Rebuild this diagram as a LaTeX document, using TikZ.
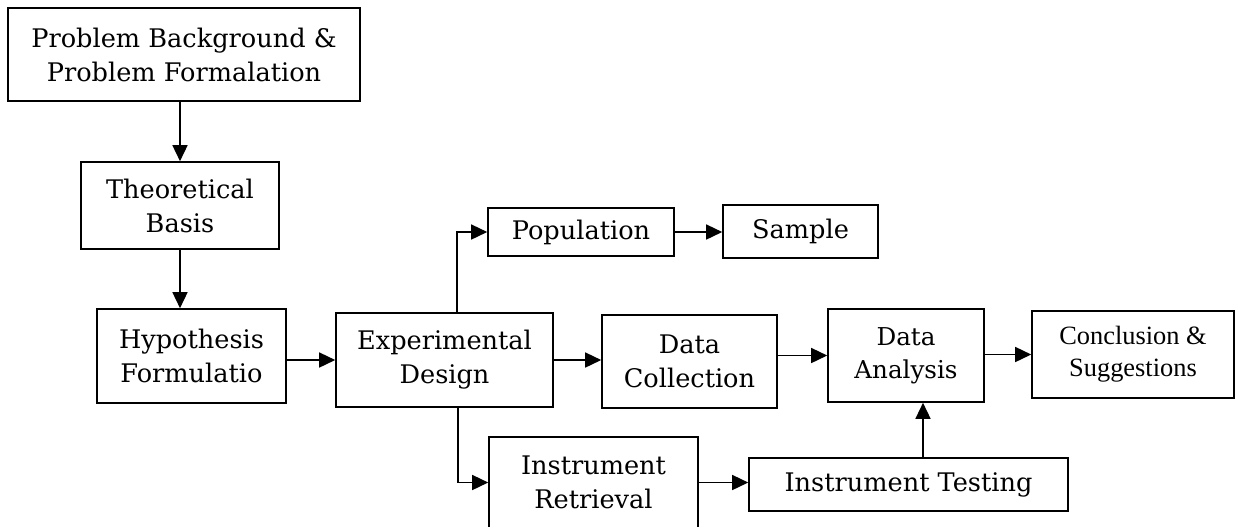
\documentclass[tikz,border=0pt]{standalone}
\usepackage{fontspec}
\setmainfont{DejaVu Serif}
\newfontfamily\timesfont{Liberation Serif}
\usepackage{tikz}
\usetikzlibrary{arrows.meta}
\tikzset{
    flow-box/.style = {draw=black, fill=white, line width=0.8pt, rectangle, inner sep=0pt, align=center, font=\fontsize{12.8}{17}\selectfont},
    flow-arrow/.style = {draw=black, line width=0.75pt, -{Triangle[length=8pt, width=7.5pt]}},
}

\begin{document}
\begin{tikzpicture}[x=0.5pt, y=-0.5pt]
\clip (0,0) rectangle (1235,526);
\node [flow-box, minimum width=176pt, minimum height=46.5pt] (problem) at (184,54.5) {Problem Background \&\\ Problem Formalation};
\node [flow-box, minimum width=99pt, minimum height=43.5pt] (theory) at (180,205.5) {Theoretical\\ Basis};
\node [flow-box, minimum width=94.5pt, minimum height=47pt] (hypothesis) at (191.5,356) {Hypothesis\\ Formulatio};
\node [flow-box, minimum width=108.5pt, minimum height=47pt] (design) at (444.5,360) {Experimental\\ Design};
\node [flow-box, minimum width=93pt, minimum height=24pt] (population) at (581,232) {Population};
\node [flow-box, minimum width=77.5pt, minimum height=26.5pt] (sample) at (800.5,231.5) {Sample};
\node [flow-box, minimum width=87.5pt, minimum height=46.5pt] (collection) at (689.5,361.5) {Data\\ Collection};
\node [flow-box, minimum width=78pt, minimum height=46.5pt, font=\fontsize{12.3}{16.5}\selectfont] (analysis) at (906,355.5) {Data\\ Analysis};
\node [flow-box, minimum width=101pt, minimum height=43.5pt, font=\timesfont\fontsize{13.2}{16}\selectfont] (conclusion) at (1133,354.5) {Conclusion \&\\ Suggestions};
\node [flow-box, minimum width=159.5pt, minimum height=26.5pt] (testing) at (908.5,484.5) {Instrument Testing};
\node [flow-box, minimum width=104.5pt, minimum height=45.5pt] (retrieval) at (593.5,482.5) {Instrument\\ Retrieval};

\draw [flow-arrow] (theory.north |- problem.south) -- (theory.north);
\draw [flow-arrow] (theory.south) -- (theory.south |- hypothesis.north);
\draw [flow-arrow] (hypothesis.east |- design) -- (design.west);
\draw [flow-arrow] ([xshift=6.25pt]design.north) |- (population.west);
\draw [flow-arrow] ([xshift=6.75pt]design.south) |- (retrieval.west);
\draw [flow-arrow] (population.east) -- (population.east -| sample.west);
\draw [flow-arrow] (design.east) -- (design.east -| collection.west);
\draw [flow-arrow] (collection.east |- analysis) -- (analysis.west);
\draw [flow-arrow] (analysis.east |- conclusion) -- (conclusion.west);
\draw [flow-arrow] ([xshift=7.25pt]testing.north) -- ([xshift=7.25pt]testing.north |- analysis.south);
\draw [flow-arrow] (retrieval.east) -- (retrieval.east -| testing.west);
\end{tikzpicture}
\end{document}
